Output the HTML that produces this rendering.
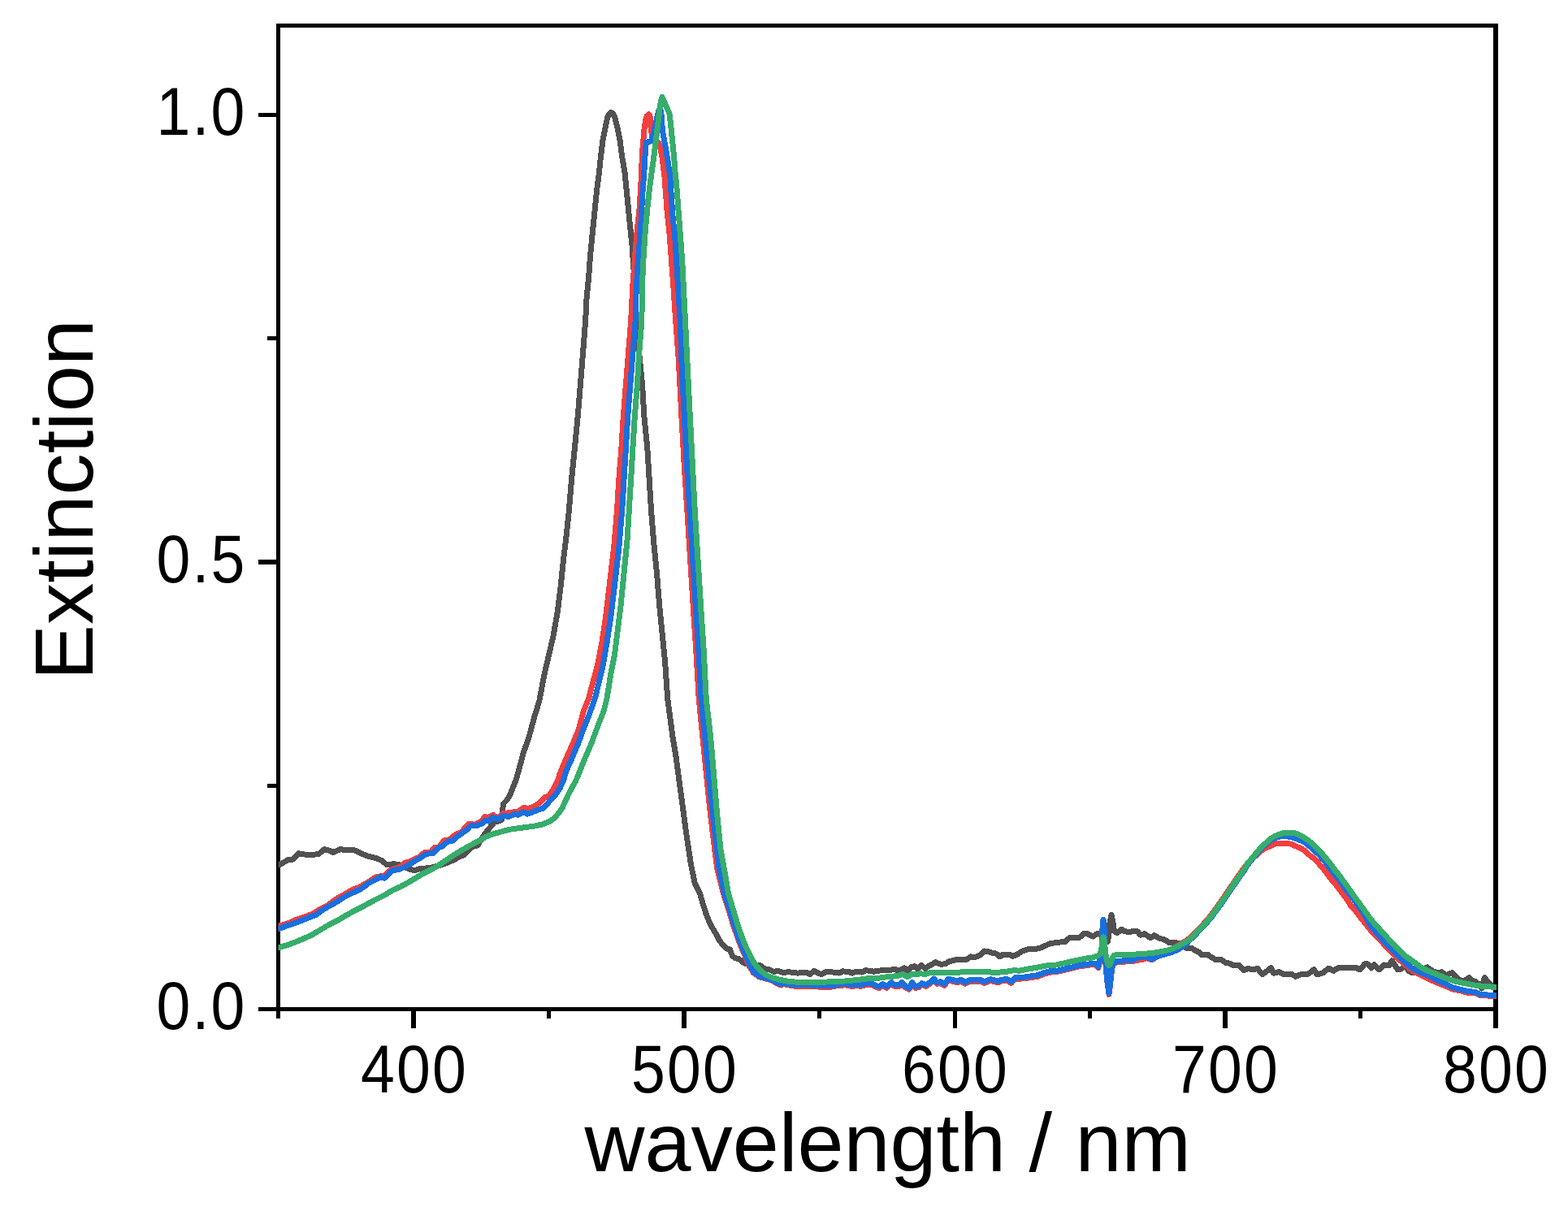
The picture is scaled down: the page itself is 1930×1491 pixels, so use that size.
<!DOCTYPE html>
<html lang="en"><head><meta charset="utf-8"><title>Extinction vs wavelength</title>
<style>
html,body{margin:0;padding:0;background:#fff;}
body{width:1930px;height:1491px;overflow:hidden;}
svg{display:block;}
text{font-family:"Liberation Sans",Arial,Helvetica,sans-serif;fill:#000;}
.tl{font-size:80px;}
.tt{font-size:102.5px;}
.ax{fill:#000;shape-rendering:crispEdges;}
.c{fill:none;stroke-width:7.0;stroke-linejoin:round;stroke-linecap:butt;shape-rendering:crispEdges;}
</style></head><body>
<svg width="1930" height="1491" viewBox="0 0 1930 1491">
<rect width="1930" height="1491" fill="#fff"/>
<defs><clipPath id="plot"><rect x="342.5" y="29" width="1499.5" height="1216"/></clipPath></defs>
<g class="ax">
<rect x="340" y="29" width="1504" height="5"/>
<rect x="340" y="1240" width="1504" height="5"/>
<rect x="340" y="29" width="5" height="1225"/>
<rect x="1838" y="29" width="6" height="1237"/>
<rect x="506" y="1245" width="6" height="21"/>
<rect x="673" y="1245" width="5" height="9"/>
<rect x="839" y="1245" width="6" height="21"/>
<rect x="1006" y="1245" width="5" height="9"/>
<rect x="1173" y="1245" width="5" height="21"/>
<rect x="1339" y="1245" width="5" height="9"/>
<rect x="1505" y="1245" width="6" height="21"/>
<rect x="1672" y="1245" width="5" height="9"/>
<rect x="318" y="1240" width="22" height="5"/>
<rect x="329" y="965" width="11" height="5"/>
<rect x="318" y="689" width="22" height="6"/>
<rect x="329" y="414" width="11" height="5"/>
<rect x="318" y="139" width="22" height="5"/>
</g>
<g clip-path="url(#plot)">
<polyline class="c" stroke="#515151" points="338.9,1066.6 342.9,1064.9 347.8,1062.5 354.7,1058.7 360.6,1058.0 367.5,1050.8 374.4,1052.0 384.3,1052.5 392.2,1051.5 399.1,1045.7 404.0,1046.7 410.0,1049.4 418.8,1045.7 428.7,1046.9 436.6,1046.9 443.5,1050.4 453.3,1054.3 463.2,1056.6 470.1,1059.7 476.0,1064.7 484.9,1063.7 492.8,1065.1 502.7,1069.6 509.6,1071.8 517.4,1069.6 529.7,1068.5 539.6,1066.0 549.4,1062.6 559.3,1058.6 564.2,1055.2 571.1,1052.7 579.0,1044.8 583.0,1041.4 587.9,1041.1 593.8,1031.0 598.8,1024.1 603.7,1018.2 608.6,1012.3 614.5,1010.8 617.5,1009.3 618.5,999.4 619.5,989.6 623.4,985.6 627.4,979.7 631.3,969.9 635.2,960.0 638.9,947.1 644.3,926.9 651.3,906.7 657.6,883.3 663.8,863.1 670.0,830.3 675.5,806.9 680.9,783.6 686.4,752.5 690.2,721.4 693.4,690.2 697.2,659.1 700.4,628.0 703.5,590.5 707.4,551.6 711.2,512.7 714.4,473.8 717.5,434.9 720.6,396.0 722.1,366.3 724.5,342.9 726.8,311.8 729.9,280.7 732.3,257.4 734.6,234.0 737.7,210.7 739.3,194.0 741.9,173.2 745.0,157.6 747.6,145.1 749.6,140.4 752.2,138.3 754.8,140.4 756.9,145.1 760.0,157.6 763.2,173.2 765.8,194.0 768.8,210.7 771.2,234.0 773.5,257.4 775.8,280.7 778.2,304.0 779.7,327.4 781.3,350.7 782.8,396.0 785.9,427.1 789.0,458.2 790.6,473.8 792.9,512.7 796.8,551.6 799.2,590.5 801.5,628.0 804.6,666.9 808.5,705.8 811.6,744.7 815.5,783.6 818.6,814.7 821.7,860.0 824.8,883.3 827.9,906.7 831.8,930.0 834.9,953.4 838.1,976.7 841.2,1000.0 844.3,1023.4 850.3,1063.3 855.0,1086.7 861.5,1100.0 864.9,1111.8 868.9,1124.7 872.8,1134.5 876.8,1142.4 881.7,1150.3 885.6,1158.2 890.6,1164.1 894.5,1168.0 898.5,1169.0 901.4,1176.9 905.4,1179.9 909.3,1180.4 914.2,1184.8 918.2,1186.8 924.1,1188.3 931.0,1188.3 935.9,1188.8 941.9,1193.2 946.8,1193.7 951.7,1196.2 958.6,1195.7 964.5,1197.6 970.5,1196.6 976.4,1197.6 982.3,1198.1 988.2,1197.1 992.1,1197.1 997.1,1199.6 1002.0,1195.2 1006.0,1197.6 1010.9,1199.6 1017.8,1196.2 1025.7,1197.1 1032.6,1198.1 1037.5,1195.7 1040.0,1196.2 1043.9,1196.2 1048.9,1198.1 1053.8,1196.2 1060.7,1197.1 1065.6,1194.7 1069.6,1195.2 1075.5,1196.2 1081.4,1195.2 1089.3,1194.2 1095.2,1194.7 1101.1,1193.2 1106.1,1195.2 1113.0,1191.7 1116.9,1195.2 1121.9,1190.7 1125.8,1189.7 1129.7,1193.2 1133.7,1188.3 1138.6,1192.2 1144.5,1188.8 1151.4,1184.8 1158.3,1187.3 1163.3,1186.8 1168.2,1183.8 1176.1,1181.9 1183.0,1181.9 1189.9,1181.4 1194.8,1177.9 1200.7,1178.4 1205.7,1176.4 1211.6,1171.0 1217.5,1172.0 1220.0,1173.0 1225.9,1174.0 1230.8,1177.9 1234.8,1175.0 1241.7,1175.0 1246.6,1177.4 1251.6,1175.4 1258.5,1171.0 1266.4,1168.5 1273.3,1168.5 1279.2,1167.6 1287.1,1164.1 1293.0,1161.6 1298.9,1160.7 1306.2,1159.9 1311.2,1159.3 1316.2,1154.9 1321.8,1154.3 1328.7,1154.3 1334.3,1149.3 1338.7,1149.9 1342.4,1151.8 1345.5,1153.0 1349.9,1149.9 1353.0,1149.9 1356.1,1152.4 1359.9,1156.2 1363.6,1159.3 1365.2,1147.4 1366.1,1135.0 1368.0,1126.5 1369.9,1135.0 1370.8,1142.4 1371.7,1146.8 1374.9,1148.7 1380.5,1144.3 1384.2,1146.8 1390.5,1147.4 1397.3,1146.2 1400.0,1146.8 1403.9,1151.2 1408.9,1149.7 1415.8,1154.7 1420.7,1151.7 1426.6,1155.2 1432.5,1156.6 1439.4,1160.6 1444.4,1160.6 1449.3,1161.1 1455.2,1164.5 1459.2,1167.0 1467.1,1167.5 1471.0,1170.0 1475.9,1172.4 1478.9,1175.9 1486.8,1175.4 1490.7,1178.3 1496.6,1181.8 1503.6,1181.8 1508.5,1185.2 1513.4,1186.2 1518.3,1188.7 1525.2,1188.7 1531.2,1194.6 1536.1,1192.6 1542.0,1193.6 1547.9,1192.6 1553.8,1199.5 1558.8,1196.1 1564.2,1191.7 1567.7,1198.1 1574.6,1196.6 1580.5,1200.0 1590.0,1199.5 1594.7,1202.3 1600.9,1199.9 1610.3,1199.2 1617.3,1193.7 1621.2,1199.9 1628.9,1197.6 1635.2,1192.2 1641.4,1195.3 1647.6,1191.4 1663.2,1191.4 1670.0,1191.9 1673.9,1193.8 1679.9,1186.9 1683.8,1186.9 1687.8,1191.9 1691.7,1187.9 1697.6,1193.8 1703.5,1187.9 1709.4,1188.9 1713.4,1183.0 1717.3,1188.9 1720.3,1193.8 1725.2,1192.8 1729.2,1188.9 1734.1,1195.8 1738.0,1197.8 1743.0,1196.8 1748.9,1193.8 1756.8,1190.9 1763.7,1195.8 1769.6,1197.8 1774.5,1196.8 1779.5,1200.7 1787.4,1197.8 1793.3,1203.7 1798.2,1207.6 1803.1,1207.1 1808.1,1203.7 1812.0,1207.6 1816.0,1208.1 1821.9,1213.6 1823.8,1217.0 1827.3,1203.7 1832.7,1210.6 1837.7,1214.5 1842.1,1216.0 1846.5,1217.0"/>
<polyline class="c" stroke="#F14040" points="338.9,1141.6 342.9,1140.3 354.7,1136.8 364.6,1132.4 374.4,1129.0 384.3,1125.5 394.2,1119.1 404.0,1114.2 413.9,1106.8 423.8,1101.3 433.6,1095.4 443.5,1092.0 448.4,1088.5 453.3,1086.1 463.2,1079.6 473.1,1078.2 478.0,1073.2 482.9,1070.3 492.8,1067.3 497.7,1062.4 502.7,1061.4 512.5,1056.5 514.9,1056.2 522.8,1049.3 529.7,1049.7 534.7,1043.3 539.6,1043.8 546.5,1035.0 553.4,1033.5 561.3,1027.1 567.2,1025.1 577.1,1014.2 584.0,1015.2 592.8,1011.3 596.8,1005.4 600.7,1006.8 606.6,1003.4 612.6,1007.3 618.5,1001.9 628.3,1000.4 638.2,999.0 645.1,994.0 649.1,996.0 655.0,994.0 661.9,990.1 667.8,985.1 671.7,981.2 675.7,979.7 682.1,969.9 687.0,960.0 688.7,953.4 696.5,934.7 704.2,917.6 712.0,898.9 718.3,875.6 724.5,860.0 735.4,819.4 740.8,791.4 745.5,760.3 750.1,721.4 755.6,674.7 759.5,628.0 761.8,590.5 764.9,551.6 767.3,512.7 770.4,473.8 773.5,434.9 776.6,396.0 778.9,350.7 781.3,319.6 783.8,288.5 787.0,257.4 788.9,226.2 790.6,187.3 791.9,172.4 792.9,159.9 793.9,153.2 794.9,147.2 796.1,142.8 798.5,140.6 800.0,142.8 800.6,149.5 801.0,156.8 801.6,162.0 803.0,167.5 808.0,173.0 812.0,178.0 815.1,194.0 818.3,219.9 818.6,226.2 820.9,257.4 824.1,288.5 826.4,319.6 828.7,350.7 831.8,396.0 835.3,442.7 838.5,504.9 841.9,567.2 845.8,628.0 849.7,690.2 853.6,752.5 856.7,799.2 860.2,860.0 864.8,906.7 869.5,953.4 874.2,1000.0 879.8,1046.7 883.0,1071.1 890.4,1100.0 896.8,1119.7 902.7,1139.4 909.6,1159.2 913.6,1169.0 918.0,1178.9 921.9,1188.8 927.5,1197.7 934.4,1202.7 943.2,1205.1 950.1,1207.1 958.6,1212.1 961.6,1213.1 964.5,1211.1 968.5,1212.6 978.3,1214.1 988.2,1214.1 998.1,1214.1 1007.9,1215.1 1022.7,1215.1 1027.7,1214.1 1040.0,1212.8 1047.9,1214.3 1054.8,1213.8 1059.7,1214.3 1064.7,1212.8 1072.5,1212.3 1079.4,1215.8 1082.4,1216.3 1086.4,1213.3 1091.3,1216.3 1097.2,1211.3 1101.1,1214.3 1107.1,1214.3 1110.0,1211.3 1115.0,1216.3 1118.9,1218.2 1122.8,1211.3 1126.8,1216.3 1130.7,1215.8 1134.7,1212.3 1139.6,1214.3 1144.5,1211.3 1149.5,1206.9 1153.4,1211.3 1157.4,1210.4 1162.3,1213.3 1167.2,1206.9 1173.1,1208.4 1178.1,1209.9 1183.0,1207.9 1187.9,1211.3 1193.8,1208.4 1207.7,1208.4 1211.6,1210.4 1217.5,1207.9 1220.0,1207.4 1227.9,1209.9 1232.8,1207.9 1239.7,1207.4 1244.7,1210.4 1249.6,1205.4 1259.4,1204.9 1269.3,1203.5 1277.2,1202.5 1284.1,1199.5 1294.0,1197.0 1300.0,1196.7 1309.4,1194.5 1318.7,1192.3 1328.1,1189.9 1337.4,1188.6 1343.7,1187.7 1349.9,1188.3 1351.8,1191.7 1355.8,1173.6 1357.1,1142.4 1358.0,1133.7 1359.0,1142.4 1360.0,1173.6 1361.3,1192.3 1362.7,1207.9 1365.0,1224.2 1366.7,1211.1 1368.0,1198.6 1368.9,1192.3 1370.5,1187.0 1374.9,1184.5 1381.1,1184.2 1393.6,1183.6 1400.0,1182.3 1405.9,1181.5 1410.8,1179.8 1412.8,1180.0 1417.8,1182.0 1422.7,1178.6 1424.7,1176.9 1429.6,1174.4 1439.4,1170.5 1444.4,1167.5 1449.3,1164.5 1454.2,1161.4 1459.2,1158.6 1464.1,1155.2 1469.0,1150.7 1473.1,1146.3 1478.0,1141.4 1482.9,1135.9 1489.4,1128.5 1496.6,1118.7 1503.8,1108.8 1510.3,1098.9 1517.0,1089.1 1523.8,1079.2 1530.9,1069.4 1534.8,1064.0 1539.7,1058.5 1544.7,1054.4 1549.6,1049.6 1554.5,1046.0 1559.4,1043.3 1564.4,1041.6 1569.3,1039.1 1574.2,1038.6 1579.2,1038.6 1584.1,1038.6 1589.0,1039.1 1594.0,1041.4 1598.9,1043.5 1603.8,1046.0 1608.8,1050.0 1613.7,1054.6 1618.6,1057.7 1623.6,1063.6 1628.5,1069.2 1633.4,1075.7 1638.3,1082.3 1643.3,1087.9 1648.2,1094.5 1653.1,1101.1 1658.1,1107.6 1663.0,1115.5 1667.9,1120.5 1672.9,1127.4 1689.7,1148.5 1699.6,1158.3 1709.4,1169.2 1719.3,1179.0 1729.2,1187.7 1739.0,1195.6 1748.9,1200.5 1758.8,1205.5 1768.6,1209.8 1778.5,1213.9 1788.3,1217.9 1798.2,1219.9 1808.1,1222.8 1816.0,1222.8 1822.9,1225.8 1842.1,1226.3 1846.5,1226.3"/>
<polyline class="c" stroke="#1A6FDF" points="338.9,1144.7 342.9,1143.4 354.7,1139.4 364.6,1136.0 374.4,1132.0 384.3,1128.1 389.2,1126.6 394.2,1122.1 404.0,1116.2 413.9,1110.8 423.8,1104.4 433.6,1099.5 443.5,1095.0 448.4,1091.6 453.3,1087.6 463.2,1082.7 468.1,1079.7 473.1,1081.2 478.0,1076.8 482.9,1071.9 492.8,1069.9 502.7,1065.0 512.5,1059.0 519.9,1054.7 524.8,1051.2 532.7,1050.7 539.6,1043.8 544.5,1041.9 551.4,1035.9 557.3,1035.0 564.2,1029.0 574.1,1022.1 579.0,1017.0 586.9,1016.5 593.8,1013.6 596.8,1010.6 601.7,1011.1 605.7,1006.6 613.6,1008.6 618.5,1004.7 626.4,1005.2 633.3,1002.7 638.2,1003.2 644.1,999.7 649.1,1002.2 656.0,999.7 662.9,996.8 667.8,995.5 672.7,990.6 677.7,985.1 683.1,979.7 689.5,969.9 693.9,960.0 696.5,950.2 704.2,933.1 712.0,914.5 718.3,897.3 724.5,881.8 732.3,860.0 741.6,822.5 747.0,791.4 751.7,760.3 756.4,721.4 761.8,674.7 765.7,628.0 768.0,590.5 770.4,551.6 772.7,512.7 775.8,473.8 778.9,434.9 782.0,396.0 782.8,366.3 784.4,335.2 786.7,304.0 789.0,272.9 790.6,241.8 792.9,210.7 794.5,184.2 795.4,175.2 801.2,173.8 805.2,162.8 808.0,148.2 810.7,136.0 812.6,132.7 814.1,142.0 815.4,160.7 817.7,173.2 820.5,188.8 823.7,209.5 825.7,225.1 825.8,234.0 827.9,265.1 831.1,296.3 832.6,319.6 834.9,358.5 837.3,396.0 838.8,442.7 841.9,504.9 845.1,567.2 848.9,628.0 852.8,690.2 856.7,752.5 859.8,799.2 863.0,860.0 867.6,906.7 872.3,953.4 877.0,1000.0 882.4,1046.7 885.3,1071.1 891.6,1100.0 898.0,1119.7 903.9,1139.4 910.8,1159.2 914.7,1169.0 919.2,1178.9 923.1,1188.8 928.0,1197.1 935.0,1202.1 943.8,1204.5 950.7,1206.5 958.6,1210.9 961.6,1211.9 964.5,1210.0 968.5,1211.4 978.3,1212.9 988.2,1212.9 998.1,1212.9 1007.9,1213.9 1022.7,1213.9 1027.7,1212.9 1040.0,1211.1 1047.9,1212.6 1054.8,1212.1 1059.7,1212.6 1064.7,1211.1 1072.5,1210.7 1079.4,1214.1 1082.4,1214.6 1086.4,1211.6 1091.3,1214.6 1097.2,1209.7 1101.1,1212.6 1107.1,1212.6 1110.0,1209.7 1115.0,1214.6 1118.9,1216.6 1122.8,1209.7 1126.8,1214.6 1130.7,1214.1 1134.7,1210.7 1139.6,1212.6 1144.5,1209.7 1149.5,1205.2 1153.4,1209.7 1157.4,1208.7 1162.3,1211.6 1167.2,1205.2 1173.1,1206.7 1178.1,1208.2 1183.0,1206.2 1187.9,1209.7 1193.8,1206.7 1207.7,1206.7 1211.6,1208.7 1217.5,1206.2 1220.0,1205.7 1227.9,1208.2 1232.8,1206.2 1239.7,1205.7 1244.7,1208.7 1249.6,1203.7 1259.4,1203.3 1269.3,1201.8 1277.2,1200.8 1284.1,1197.8 1294.0,1195.4 1300.0,1195.5 1309.4,1193.3 1318.7,1191.1 1328.1,1188.6 1337.4,1187.4 1343.7,1186.4 1349.9,1187.0 1351.8,1190.5 1355.8,1172.4 1357.1,1141.2 1358.0,1132.5 1359.0,1141.2 1360.0,1172.4 1361.3,1191.1 1362.7,1206.7 1365.0,1223.0 1366.7,1209.8 1368.0,1197.3 1368.9,1191.1 1370.5,1185.8 1374.9,1183.3 1381.1,1183.0 1393.6,1182.4 1400.0,1179.3 1409.9,1177.9 1412.8,1178.8 1417.8,1181.3 1422.7,1178.3 1429.6,1175.9 1439.4,1173.4 1449.3,1169.7 1454.2,1166.5 1459.2,1163.1 1464.7,1157.2 1469.6,1152.8 1474.6,1147.4 1479.5,1142.5 1484.4,1137.0 1490.9,1129.6 1498.1,1119.8 1505.3,1109.9 1511.8,1100.0 1518.5,1090.2 1525.3,1080.3 1532.4,1070.5 1535.4,1065.0 1540.3,1059.1 1545.3,1053.0 1550.2,1047.1 1555.1,1041.9 1564.4,1034.7 1569.3,1031.5 1574.2,1030.2 1579.2,1029.7 1589.0,1030.2 1594.0,1032.2 1598.9,1034.0 1603.8,1035.6 1608.8,1039.2 1613.7,1043.6 1618.6,1047.9 1623.6,1052.4 1628.5,1058.1 1633.4,1063.8 1638.3,1070.6 1643.3,1077.3 1648.2,1083.0 1653.1,1089.9 1658.1,1096.8 1663.0,1102.7 1667.9,1109.6 1672.9,1116.5 1677.8,1123.4 1689.7,1143.5 1699.6,1154.4 1709.4,1165.2 1719.3,1175.1 1729.2,1184.8 1739.0,1192.6 1748.9,1197.6 1758.8,1201.5 1768.6,1206.8 1778.5,1211.0 1788.3,1215.9 1798.2,1218.4 1808.1,1220.8 1816.0,1221.3 1822.9,1224.8 1842.1,1225.3 1846.5,1225.3"/>
<polyline class="c" stroke="#37AD6B" points="338.9,1167.9 342.9,1166.7 354.7,1163.3 364.6,1159.5 374.4,1155.4 384.3,1150.9 394.2,1145.0 404.0,1139.1 413.9,1134.2 423.8,1128.3 433.6,1122.8 443.5,1117.9 453.3,1112.5 463.2,1107.1 473.1,1102.3 482.9,1096.2 492.8,1091.8 502.7,1086.4 512.5,1080.6 519.9,1075.9 529.7,1071.2 539.6,1065.7 549.4,1058.9 559.3,1052.2 569.2,1046.3 579.0,1040.7 588.9,1035.7 598.8,1029.8 608.6,1026.3 618.5,1023.6 628.3,1021.1 638.2,1019.7 648.1,1018.4 657.9,1017.0 667.8,1015.0 677.7,1010.8 682.6,1006.8 687.5,1001.4 692.4,994.0 697.4,983.2 700.0,977.3 708.9,961.1 718.3,937.8 727.6,916.0 736.9,891.1 743.1,875.6 747.0,860.0 751.7,830.3 756.4,806.9 760.3,775.8 764.2,744.7 768.0,705.8 771.9,666.9 774.3,628.0 776.6,590.5 778.9,551.6 781.3,512.7 784.4,473.8 786.7,434.9 789.8,396.0 790.6,350.7 791.4,327.4 792.9,304.0 794.5,280.7 796.8,257.4 799.2,234.0 802.3,210.7 804.7,194.0 807.3,173.2 809.9,152.4 812.0,133.7 813.6,123.3 815.1,119.6 817.2,124.3 820.3,131.6 824.0,139.9 825.5,152.4 827.6,173.2 829.7,194.0 831.2,214.7 832.6,226.2 834.9,257.4 837.3,288.5 839.6,319.6 841.2,350.7 843.5,396.0 845.8,442.7 848.9,504.9 852.1,567.2 855.2,628.0 859.1,690.2 863.0,752.5 866.1,799.2 869.2,860.0 874.6,906.7 878.5,953.4 882.4,1000.0 887.1,1046.7 891.6,1071.1 896.5,1100.0 902.4,1119.7 908.3,1139.4 915.2,1159.2 919.7,1169.0 924.6,1178.9 929.0,1186.8 935.0,1193.7 941.9,1199.6 948.8,1203.1 958.6,1206.0 968.5,1208.0 978.3,1209.0 988.2,1209.3 998.1,1209.0 1007.9,1209.3 1017.8,1209.0 1027.7,1208.5 1040.0,1208.0 1049.9,1207.0 1059.7,1206.0 1069.6,1204.5 1079.4,1204.5 1089.3,1203.1 1099.2,1202.1 1104.1,1201.6 1111.0,1199.6 1116.9,1202.6 1121.9,1199.6 1128.8,1199.6 1132.7,1198.6 1138.6,1199.6 1146.5,1197.1 1158.3,1197.1 1178.1,1197.1 1197.8,1196.6 1217.5,1196.6 1220.0,1197.1 1229.9,1197.1 1239.7,1196.2 1247.6,1194.7 1254.5,1195.2 1264.4,1193.2 1279.2,1190.7 1289.0,1188.8 1300.0,1188.0 1312.5,1185.2 1325.0,1182.4 1337.4,1179.9 1343.7,1179.2 1349.9,1177.4 1353.6,1175.5 1355.8,1169.3 1356.5,1159.9 1358.0,1153.7 1359.6,1159.9 1360.2,1169.3 1361.4,1178.6 1363.0,1184.9 1364.9,1188.6 1366.7,1186.1 1368.6,1180.5 1371.1,1176.4 1374.9,1175.5 1393.6,1175.2 1400.0,1174.9 1409.9,1174.2 1419.7,1173.2 1429.6,1171.6 1439.4,1169.5 1444.4,1167.5 1449.3,1165.3 1454.2,1162.6 1459.2,1160.1 1464.1,1156.6 1469.0,1152.2 1474.0,1146.8 1478.9,1141.9 1483.8,1136.4 1490.3,1129.0 1497.5,1119.2 1504.7,1109.3 1511.2,1099.4 1517.9,1089.6 1524.7,1079.7 1531.8,1069.9 1534.8,1064.2 1539.7,1058.3 1544.7,1052.2 1549.6,1046.3 1554.5,1041.1 1559.4,1036.8 1564.4,1032.2 1569.3,1029.4 1574.2,1027.4 1579.2,1025.8 1584.1,1025.3 1589.0,1025.3 1594.0,1025.8 1598.9,1027.9 1603.8,1030.5 1608.8,1033.7 1613.7,1037.3 1618.6,1042.3 1623.6,1047.0 1628.5,1052.5 1633.4,1058.3 1638.3,1064.6 1643.3,1071.4 1648.2,1077.3 1653.1,1084.2 1658.1,1091.1 1663.0,1098.0 1667.9,1104.9 1672.9,1111.8 1677.8,1118.7 1682.7,1125.4 1684.8,1128.7 1689.7,1134.7 1699.6,1145.7 1709.4,1156.5 1719.3,1166.4 1729.2,1176.6 1739.0,1183.5 1748.9,1190.9 1758.8,1195.8 1768.6,1199.7 1778.5,1203.9 1788.3,1207.4 1798.2,1209.8 1808.1,1211.6 1817.9,1213.6 1827.8,1214.5 1842.1,1215.5 1846.5,1215.7"/>
</g>
<text class="tl" transform="translate(510.00,1345.0) scale(0.94,1.042)" letter-spacing="2.3" text-anchor="middle">400</text>
<text class="tl" transform="translate(843.00,1345.0) scale(0.94,1.042)" letter-spacing="2.3" text-anchor="middle">500</text>
<text class="tl" transform="translate(1176.00,1345.0) scale(0.94,1.042)" letter-spacing="2.3" text-anchor="middle">600</text>
<text class="tl" transform="translate(1509.00,1345.0) scale(0.94,1.042)" letter-spacing="2.3" text-anchor="middle">700</text>
<text class="tl" transform="translate(1842.00,1345.0) scale(0.94,1.042)" letter-spacing="2.3" text-anchor="middle">800</text>
<text class="tl" transform="translate(303.5,1266.80) scale(0.94,1.042)" letter-spacing="2.3" text-anchor="end">0.0</text>
<text class="tl" transform="translate(303.5,717.35) scale(0.94,1.042)" letter-spacing="2.3" text-anchor="end">0.5</text>
<text class="tl" transform="translate(303.5,165.90) scale(0.94,1.042)" letter-spacing="2.3" text-anchor="end">1.0</text>
<text class="tt" x="1092.6" y="1441.8" text-anchor="middle">wavelength / nm</text>
<text class="tt" transform="translate(113.9,615.3) rotate(-90)" text-anchor="middle">Extinction</text>
</svg></body></html>
